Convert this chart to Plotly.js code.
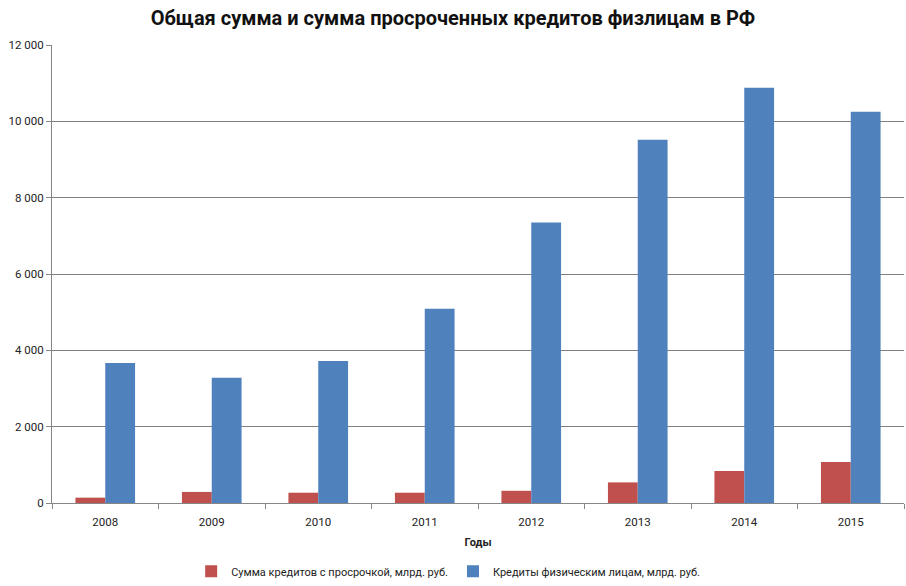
<!DOCTYPE html>
<html>
<head>
<meta charset="utf-8">
<script src="https://cdn.plot.ly/plotly-3.0.1.min.js"></script>
<style>
  html, body { margin: 0; padding: 0; background: #fff; }
  #chart { width: 906px; height: 586px; }
</style>
</head>
<body>
<div id="chart"></div>
<script>
// годы и значения, млрд. руб.
var years = ['2008', '2009', '2010', '2011', '2012', '2013', '2014', '2015'];
var overdue = [140, 290, 270, 270, 320, 540, 840, 1075];
var loans = [3670, 3280, 3720, 5090, 7350, 9520, 10880, 10250];
var yTicks = [0, 2000, 4000, 6000, 8000, 10000, 12000];

var font = 'Roboto, "Open Sans", sans-serif';

var trace1 = {
  x: years,
  y: overdue,
  name: 'Сумма кредитов с просрочкой, млрд. руб.',
  type: 'bar',
  marker: {color: '#c0504d'},
  hoverinfo: 'y'
};
var trace2 = {
  x: years,
  y: loans,
  name: 'Кредиты физическим лицам, млрд. руб.',
  type: 'bar',
  marker: {color: '#4f81bd'},
  hoverinfo: 'y'
};

var layout = {
  width: 906,
  height: 586,
  margin: {l: 52, r: 2, t: 45, b: 83},
  paper_bgcolor: '#fff',
  plot_bgcolor: '#fff',
  separators: '. ',
  barmode: 'group',
  bargap: 0.44,
  bargroupgap: 0,
  showlegend: true,
  font: {family: font, size: 11, color: '#222'},
  title: {
    text: '<b>Общая сумма и сумма просроченных кредитов физлицам в РФ</b>',
    x: 0.5, xanchor: 'center',
    y: 0.97, yanchor: 'middle',
    font: {family: font, size: 20, color: '#111'}
  },
  xaxis: {
    type: 'category',
    automargin: false,
    showline: true,
    linecolor: '#868686',
    linewidth: 1,
    ticks: 'outside',
    tickson: 'boundaries',
    ticklen: 5,
    tickcolor: '#868686',
    showgrid: false,
    ticklabelstandoff: 8,
    tickfont: {size: 11.5, color: '#222'},
    title: {text: '<b>Годы</b>', font: {size: 11, color: '#222'}, standoff: 10}
  },
  yaxis: {
    automargin: false,
    range: [0, 12000],
    tickvals: yTicks,
    tickformat: ',d',
    showline: true,
    linecolor: '#868686',
    linewidth: 1,
    ticks: 'outside',
    ticklen: 5,
    tickcolor: '#868686',
    showgrid: true,
    gridcolor: '#808080',
    gridwidth: 1,
    zeroline: false,
    tickfont: {size: 11.5, color: '#222'}
  },
  legend: {
    orientation: 'h',
    xref: 'paper', yref: 'container',
    x: 0.465, xanchor: 'center',
    y: 0.025, yanchor: 'middle',
    font: {size: 11, color: '#222'},
    itemwidth: 30,
    traceorder: 'normal'
  }
};

Plotly.newPlot('chart', [trace1, trace2], layout, {displayModeBar: false, staticPlot: true});
</script>
</body>
</html>
